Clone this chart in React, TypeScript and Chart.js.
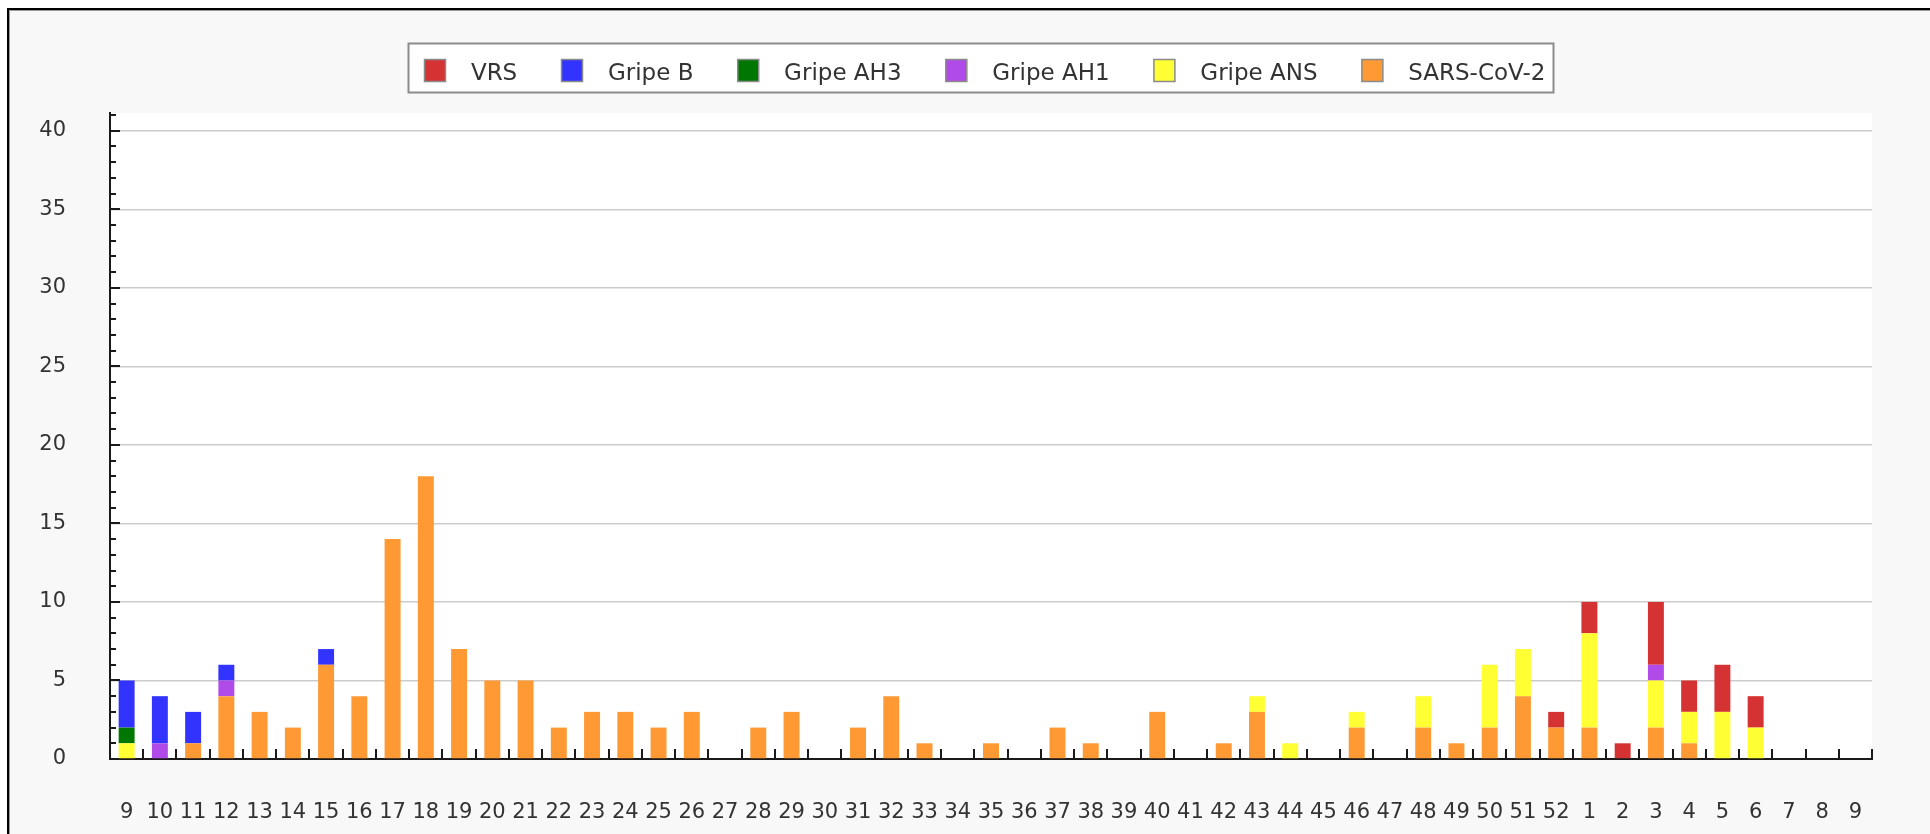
import React, { useEffect, useRef } from 'react';
import { Chart, registerables } from 'chart.js';

Chart.register(...registerables);

// Epidemiological weeks (year 1: 9..52, year 2: 1..9)
const WEEKS = [
  '9', '10', '11', '12', '13', '14', '15', '16', '17', '18', '19', '20', '21', '22', '23', '24',
  '25', '26', '27', '28', '29', '30', '31', '32', '33', '34', '35', '36', '37', '38', '39', '40',
  '41', '42', '43', '44', '45', '46', '47', '48', '49', '50', '51', '52',
  '1', '2', '3', '4', '5', '6', '7', '8', '9',
];

//                 9 10 11 12 13 14 15 16 17  18 19 20 21 22 23 24 25 26 27 28 29 30 31 32 33 34 35 36 37 38 39 40 41 42 43 44 45 46 47 48 49 50 51 52  1  2  3  4  5  6  7  8  9
const SARS_COV_2 = [0, 0, 1, 4, 3, 2, 6, 4, 14, 18, 7, 5, 5, 2, 3, 3, 2, 3, 0, 2, 3, 0, 2, 4, 1, 0, 1, 0, 2, 1, 0, 3, 0, 1, 3, 0, 0, 2, 0, 2, 1, 2, 4, 2, 2, 0, 2, 1, 0, 0, 0, 0, 0];
const GRIPE_ANS = [1, 0, 0, 0, 0, 0, 0, 0, 0, 0, 0, 0, 0, 0, 0, 0, 0, 0, 0, 0, 0, 0, 0, 0, 0, 0, 0, 0, 0, 0, 0, 0, 0, 0, 1, 1, 0, 1, 0, 2, 0, 4, 3, 0, 6, 0, 3, 2, 3, 2, 0, 0, 0];
const GRIPE_AH1 = [0, 1, 0, 1, 0, 0, 0, 0, 0, 0, 0, 0, 0, 0, 0, 0, 0, 0, 0, 0, 0, 0, 0, 0, 0, 0, 0, 0, 0, 0, 0, 0, 0, 0, 0, 0, 0, 0, 0, 0, 0, 0, 0, 0, 0, 0, 1, 0, 0, 0, 0, 0, 0];
const GRIPE_AH3 = [1, 0, 0, 0, 0, 0, 0, 0, 0, 0, 0, 0, 0, 0, 0, 0, 0, 0, 0, 0, 0, 0, 0, 0, 0, 0, 0, 0, 0, 0, 0, 0, 0, 0, 0, 0, 0, 0, 0, 0, 0, 0, 0, 0, 0, 0, 0, 0, 0, 0, 0, 0, 0];
const GRIPE_B = [3, 3, 2, 1, 0, 0, 1, 0, 0, 0, 0, 0, 0, 0, 0, 0, 0, 0, 0, 0, 0, 0, 0, 0, 0, 0, 0, 0, 0, 0, 0, 0, 0, 0, 0, 0, 0, 0, 0, 0, 0, 0, 0, 0, 0, 0, 0, 0, 0, 0, 0, 0, 0];
const VRS = [0, 0, 0, 0, 0, 0, 0, 0, 0, 0, 0, 0, 0, 0, 0, 0, 0, 0, 0, 0, 0, 0, 0, 0, 0, 0, 0, 0, 0, 0, 0, 0, 0, 0, 0, 0, 0, 0, 0, 0, 0, 0, 0, 1, 2, 1, 4, 2, 3, 2, 0, 0, 0];

const Y_TICKS = [0, 5, 10, 15, 20, 25, 30, 35, 40];
const Y_MAX = 41.13;

const COLORS = {
  vrs: '#d53333',
  gripeB: '#3333ff',
  ah3: '#007700',
  ah1: '#b04ae8',
  ans: '#ffff33',
  sars: '#ff9933',
};

const FONT = '"DejaVu Sans", "Liberation Sans", sans-serif';

const plotBgPlugin = {
  id: 'plotBg',
  beforeDraw(chart: any) {
    const { ctx, chartArea } = chart;
    ctx.save();
    ctx.fillStyle = '#ffffff';
    ctx.fillRect(chartArea.left, chartArea.top, chartArea.right - chartArea.left, chartArea.bottom - chartArea.top);
    ctx.restore();
  },
};

const innerTicksPlugin = {
  id: 'innerTicks',
  afterDraw(chart: any) {
    const { ctx, chartArea } = chart;
    const xs = chart.scales.x;
    const ys = chart.scales.y;
    ctx.save();
    ctx.strokeStyle = '#1a1a1a';
    ctx.lineWidth = 2;
    ctx.beginPath();
    const n = WEEKS.length;
    const half = (xs.getPixelForValue(1) - xs.getPixelForValue(0)) / 2;
    for (let i = 0; i < n; i++) {
      const bx = Math.round(xs.getPixelForValue(i) + half);
      ctx.moveTo(bx, chartArea.bottom);
      ctx.lineTo(bx, chartArea.bottom - 10);
    }
    for (let v = 1; v <= Math.floor(Y_MAX); v++) {
      const py = Math.round(ys.getPixelForValue(v));
      if (py < chartArea.top) continue;
      const len = v % 5 === 0 ? 10 : 6;
      ctx.moveTo(chartArea.left, py);
      ctx.lineTo(chartArea.left + len, py);
    }
    ctx.stroke();
    ctx.restore();
  },
};

const boxLegendPlugin = {
  id: 'boxLegend',
  afterDraw(chart: any) {
    const ctx = chart.ctx;
    ctx.save();
    const boxL = 408.5, boxT = 43.5, boxR = 1553.5, boxB = 92.5;
    ctx.fillStyle = '#ffffff';
    ctx.fillRect(boxL, boxT, boxR - boxL, boxB - boxT);
    ctx.strokeStyle = '#8c8c8c';
    ctx.lineWidth = 2;
    ctx.strokeRect(boxL, boxT, boxR - boxL, boxB - boxT);
    ctx.font = `23px ${FONT}`;
    ctx.textBaseline = 'alphabetic';
    ctx.textAlign = 'left';
    let x = 424.5;
    const items = chart.data.datasets.slice().reverse();
    for (const ds of items) {
      ctx.fillStyle = ds.backgroundColor;
      ctx.fillRect(x, 59.5, 21, 22);
      ctx.strokeStyle = '#8a8a8a';
      ctx.lineWidth = 1.5;
      ctx.strokeRect(x, 59.5, 21, 22);
      ctx.fillStyle = '#333333';
      const tx = x + 46.4;
      ctx.fillText(ds.label, tx, 80);
      x = tx + ctx.measureText(ds.label).width + 44.3;
    }
    ctx.restore();
  },
};

export default function App() {
  const canvasRef = useRef<HTMLCanvasElement | null>(null);

  useEffect(() => {
    const canvas = canvasRef.current;
    if (!canvas) return;
    const tickFont = { family: FONT, size: 21 };
    const chart = new Chart(canvas, {
      type: 'bar',
      data: {
        labels: WEEKS,
        datasets: [
          { label: 'SARS-CoV-2', data: SARS_COV_2, backgroundColor: COLORS.sars },
          { label: 'Gripe ANS', data: GRIPE_ANS, backgroundColor: COLORS.ans },
          { label: 'Gripe AH1', data: GRIPE_AH1, backgroundColor: COLORS.ah1 },
          { label: 'Gripe AH3', data: GRIPE_AH3, backgroundColor: COLORS.ah3 },
          { label: 'Gripe B', data: GRIPE_B, backgroundColor: COLORS.gripeB },
          { label: 'VRS', data: VRS, backgroundColor: COLORS.vrs },
        ],
      },
      options: {
        responsive: false,
        maintainAspectRatio: false,
        animation: false,
        devicePixelRatio: 1,
        layout: { padding: { left: 0, right: 58, top: 113, bottom: 15 } },
        datasets: { bar: { barPercentage: 0.48, categoryPercentage: 1, borderWidth: 0 } },
        plugins: {
          legend: { display: false },
          tooltip: { enabled: false },
          title: { display: false },
        },
        scales: {
          x: {
            stacked: true,
            offset: true,
            grid: { display: false, drawTicks: false },
            border: { display: true, color: '#1a1a1a', width: 2 },
            ticks: {
              font: tickFont,
              color: '#333333',
              padding: 41,
              autoSkip: false,
              maxRotation: 0,
              minRotation: 0,
            },
            afterFit: (s: any) => { s.height = 60; },
          },
          y: {
            stacked: true,
            min: 0,
            max: Y_MAX,
            afterBuildTicks: (s: any) => { s.ticks = Y_TICKS.map((v) => ({ value: v })); },
            grid: {
              drawTicks: false,
              lineWidth: 1.5,
              color: (c: any) => (c.tick && c.tick.value === 0 ? 'rgba(0,0,0,0)' : '#cccccc'),
            },
            border: { display: true, color: '#1a1a1a', width: 2 },
            ticks: { font: tickFont, color: '#333333', padding: 44 },
            afterFit: (s: any) => { s.width = 110; },
          },
        },
      },
      plugins: [plotBgPlugin, innerTicksPlugin, boxLegendPlugin],
    } as any);
    return () => chart.destroy();
  }, []);

  return (
    <div style={{ position: 'fixed', left: 0, top: 0, width: 1930, height: 834, background: '#ffffff', overflow: 'hidden' }}>
      <div
        style={{
          position: 'absolute', left: 7, top: 8, right: 0, bottom: 0,
          background: '#f8f8f8', borderTop: '2px solid #000', borderLeft: '2px solid #000',
        }}
      >
        <div style={{ position: 'absolute', left: 0, top: 0, right: 0, height: 1, background: '#999' }} />
        <div style={{ position: 'absolute', left: 0, top: 0, bottom: 0, width: 1, background: '#999' }} />
      </div>
      <canvas ref={canvasRef} width={1930} height={834} style={{ position: 'absolute', left: 0, top: 0, width: 1930, height: 834 }} />
    </div>
  );
}
